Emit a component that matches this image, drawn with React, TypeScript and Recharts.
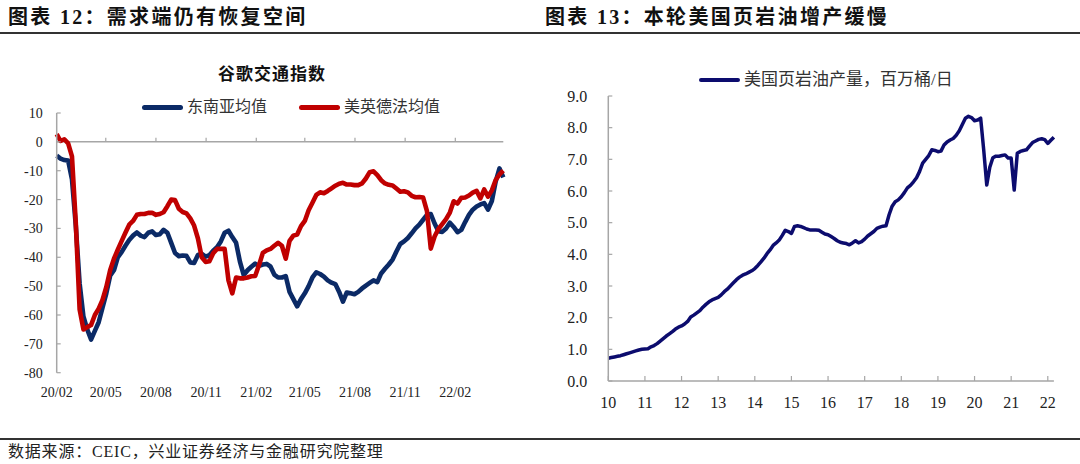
import React from 'react';
import { LineChart, Line, XAxis, YAxis, ReferenceLine } from 'recharts';

// ---------- Left chart: Google mobility (weekly, from 2020-02-15) ----------
const DAY = 86400000;
const trafficStart = Date.UTC(2020, 1, 15);

const seAsiaAvg = [
  -4.8, -5.8, -6.3, -6.5, -13, -29, -49, -60.5, -65, -68.5,
  -65.5, -62.5, -57.5, -52.5, -46.4, -44.5, -40, -38.2, -36, -34,
  -32.5, -31.4, -32.5, -33, -31.5, -31, -32.3, -32, -30.5, -31.5,
  -35, -38.5, -39.6, -39.4, -39.5, -41.8, -42, -39.2, -38.8, -39.8,
  -39.3, -37.7, -36.5, -34.5, -31.5, -30.8, -33, -35, -41.5, -46.2,
  -44.5, -43.3, -42.2, -43, -42.5, -42.3, -43.2, -46, -47, -47,
  -46.5, -52, -54.5, -57, -54.5, -52.5, -50, -47, -45.2, -45.8,
  -46.7, -48, -48.8, -49.3, -52, -55.4, -52.2, -52.5, -52.8, -52,
  -50.8, -49.8, -48.9, -48, -48.6, -45.6, -44, -42.5, -40.8, -38,
  -35.4, -34.5, -33.3, -31.7, -30, -28.7, -27, -25.3, -25, -28.3,
  -31, -31.2, -30, -28, -29.5, -31.3, -30.5, -27.8, -25.3, -23.5,
  -22.4, -21.7, -21.2, -23.5, -20.5, -13.8, -9.2, -12.3,
];

const westAvg = [
  2.7, 0.3, 0.9, -0.5, -5, -28, -58, -65, -64.2, -63.5,
  -60, -57.8, -54.8, -50.3, -44.5, -40.5, -37.4, -34.4, -31.5, -28.7,
  -27.4, -25.3, -25, -25, -24.6, -24.6, -25.3, -25, -24.4, -22.3,
  -20, -20.2, -23.2, -24.3, -24.8, -26.5, -29, -33.5, -40, -41.6,
  -41.4, -38.6, -37.1, -37.1, -37.1, -48, -52.5, -47, -47.3, -47.3,
  -47, -46.6, -46.5, -42.7, -38.5, -37.6, -37.1, -36, -35, -36,
  -40.5, -34.3, -32.5, -32.1, -29.2, -27.4, -23.7, -21.1, -18.4, -17.5,
  -17.8, -17, -16.1, -15.2, -14.5, -14.2, -14.8, -14.8, -15, -15,
  -14.4, -12.7, -10.5, -10.2, -11.5, -13.3, -14.4, -14.9, -15.1, -16.2,
  -17.3, -17.1, -17.5, -18.7, -19.2, -19.1, -19.3, -24, -37, -32.8,
  -30.2, -28.5, -26.8, -24.5, -20.6, -21.4, -19.4, -19.3, -18.6, -17.6,
  -17, -19.6, -16.5, -19, -16.8, -13.2, -11.3, -10,
];

const trafficTickLabels = ['20/02', '20/05', '20/08', '20/11', '21/02', '21/05', '21/08', '21/11', '22/02'];
const trafficYTicks = [10, 0, -10, -20, -30, -40, -50, -60, -70, -80];

const trafficTicks = trafficTickLabels.map((l) =>
  Date.UTC(2000 + Number(l.slice(0, 2)), Number(l.slice(3)) - 1, 15)
);
const trafficData = seAsiaAvg.map((v, i) => ({
  t: trafficStart + i * 7 * DAY,
  sea: v,
  west: westAvg[i],
}));
const trafficEnd = trafficData[trafficData.length - 1].t;
const fmtTraffic = (t: number) => {
  const d = new Date(t);
  const yy = String(d.getUTCFullYear() % 100).padStart(2, '0');
  const mm = String(d.getUTCMonth() + 1).padStart(2, '0');
  return `${yy}/${mm}`;
};

// ---------- Right chart: US shale oil output (monthly, from 2010-01) ----------
const shaleStartYear = 2010;
const shaleOutput = [
  0.72, 0.74, 0.76, 0.78, 0.8, 0.83, 0.86, 0.89, 0.92, 0.95, 0.98, 1.0, // 2010
  1.01, 1.02, 1.08, 1.12, 1.18, 1.26, 1.34, 1.42, 1.49, 1.56, 1.64, 1.7, // 2011
  1.74, 1.8, 1.88, 2.02, 2.08, 2.15, 2.22, 2.33, 2.42, 2.5, 2.56, 2.6, // 2012
  2.64, 2.72, 2.82, 2.9, 3.0, 3.1, 3.2, 3.28, 3.34, 3.38, 3.43, 3.48, // 2013
  3.55, 3.65, 3.76, 3.88, 4.02, 4.14, 4.28, 4.36, 4.45, 4.6, 4.76, 4.72, // 2014
  4.66, 4.88, 4.9, 4.88, 4.84, 4.8, 4.77, 4.77, 4.77, 4.76, 4.7, 4.64, // 2015
  4.62, 4.56, 4.5, 4.43, 4.38, 4.36, 4.34, 4.3, 4.36, 4.43, 4.36, 4.4, // 2016
  4.48, 4.58, 4.65, 4.72, 4.82, 4.86, 4.89, 4.9, 5.25, 5.52, 5.66, 5.72, // 2017
  5.82, 5.95, 6.1, 6.18, 6.29, 6.42, 6.62, 6.88, 7.0, 7.12, 7.3, 7.28, // 2018
  7.24, 7.26, 7.45, 7.55, 7.61, 7.66, 7.76, 7.9, 8.1, 8.3, 8.36, 8.32, // 2019
  8.22, 8.24, 8.3, 7.3, 6.19, 6.75, 7.05, 7.1, 7.1, 7.12, 7.14, 7.04, // 2020
  7.04, 6.03, 7.19, 7.25, 7.28, 7.3, 7.42, 7.53, 7.58, 7.63, 7.65, 7.62, // 2021
  7.5, 7.6, 7.7, // 2022
];
const shaleYearLabels = ['10', '11', '12', '13', '14', '15', '16', '17', '18', '19', '20', '21', '22'];
const shaleYTicks = [0, 1, 2, 3, 4, 5, 6, 7, 8, 9];

const shaleData = shaleOutput.map((v, i) => ({ t: shaleStartYear + i / 12, v }));
const shaleTicks = shaleYearLabels.map((y) => 2000 + Number(y));
const shaleEnd = shaleData[shaleData.length - 1].t;

// ---------- styles ----------
const SERIF = "'Liberation Serif', 'Times New Roman', 'Noto Sans CJK SC', serif";
const AXIS = '#a6a6a6';
const BLUE = '#0b2a66';
const RED = '#c00000';
const NAVY = '#0c0c6e';

const abs = (s: React.CSSProperties): React.CSSProperties => ({ position: 'absolute', ...s });

function LegendItem({ color, label, left, top, size, lineW, thick }: any) {
  return (
    <div style={abs({ left, top, display: 'flex', alignItems: 'center', whiteSpace: 'nowrap' })}>
      <div style={{ width: lineW, height: thick, background: color, borderRadius: thick / 2, marginRight: 4 }} />
      <span style={{ fontSize: size, color: '#333', fontFamily: SERIF, lineHeight: '20px' }}>{label}</span>
    </div>
  );
}

export default function App() {
  return (
    <div style={abs({ left: 0, top: 0, width: 1080, height: 464, background: '#fff', fontFamily: SERIF, overflow: 'hidden' })}>
      {/* headers */}
      <div style={abs({ left: 8, top: 4, fontSize: 20, fontWeight: 'bold', letterSpacing: 2.3, lineHeight: '26px', color: '#111' })}>
        图表 12：需求端仍有恢复空间
      </div>
      <div style={abs({ left: 545, top: 4, fontSize: 20, fontWeight: 'bold', letterSpacing: 2.3, lineHeight: '26px', color: '#111' })}>
        图表 13：本轮美国页岩油增产缓慢
      </div>
      <div style={abs({ left: 0, top: 32, width: 1080, height: 1.5, background: '#333' })} />

      {/* left chart */}
      <div style={abs({ left: 0, top: 0 })}>
        <LineChart width={540} height={464} data={trafficData} margin={{ top: 113, right: 36.7, bottom: 0, left: 0 }}>
          <XAxis
            dataKey="t"
            type="number"
            domain={[trafficStart, trafficEnd]}
            ticks={trafficTicks}
            tickFormatter={fmtTraffic}
            axisLine={false}
            tickLine={false}
            tickSize={0}
            tickMargin={14}
            height={91.3}
            interval={0}
            tick={{ fill: '#222', fontSize: 14, fontFamily: SERIF }}
          />
          <YAxis
            type="number"
            domain={[-80, 10]}
            ticks={trafficYTicks}
            interval={0}
            width={56.7}
            axisLine={{ stroke: AXIS, strokeWidth: 1.5 }}
            tickLine={{ stroke: AXIS, strokeWidth: 1.2 }}
            tickSize={-4}
            tickMargin={18}
            tick={{ fill: '#222', fontSize: 14, fontFamily: SERIF }}
          />
          <ReferenceLine y={0} stroke={AXIS} strokeWidth={1.5} />
          {trafficTicks.slice(1).map((tk) => (
            <ReferenceLine
              key={tk}
              segment={[{ x: tk, y: 0 }, { x: tk, y: 1.4 }]}
              stroke={AXIS}
              strokeWidth={1.2}
            />
          ))}
          <Line dataKey="sea" stroke={BLUE} strokeWidth={4.6} dot={false} isAnimationActive={false} strokeLinejoin="round" />
          <Line dataKey="west" stroke={RED} strokeWidth={4.6} dot={false} isAnimationActive={false} strokeLinejoin="round" />
        </LineChart>
      </div>
      <div style={abs({ left: 0, width: 540, top: 64, textAlign: 'center', paddingLeft: 0 })}>
        <span style={{ display: 'inline-block', marginLeft: 4, fontSize: 17, fontWeight: 'bold', letterSpacing: 1, color: '#111', lineHeight: '22px' }}>
          谷歌交通指数
        </span>
      </div>
      <LegendItem color={BLUE} label="东南亚均值" left={142} top={97} size={16} lineW={41} thick={5} />
      <LegendItem color={RED} label="美英德法均值" left={299} top={97} size={16} lineW={41} thick={5} />

      {/* right chart */}
      <div style={abs({ left: 540, top: 0 })}>
        <LineChart width={540} height={464} data={shaleData} margin={{ top: 96, right: 26.1, bottom: 0, left: 0 }}>
          <XAxis
            dataKey="t"
            type="number"
            domain={[shaleStartYear, shaleEnd]}
            ticks={shaleTicks}
            tickFormatter={(v: number) => String(Math.round(v) - 2000)}
            interval={0}
            height={83}
            axisLine={{ stroke: AXIS, strokeWidth: 1.5 }}
            tickLine={{ stroke: AXIS, strokeWidth: 1.2 }}
            tickSize={-5}
            tickMargin={21}
            tick={{ fill: '#222', fontSize: 16, fontFamily: SERIF }}
          />
          <YAxis
            type="number"
            domain={[0, 9]}
            ticks={shaleYTicks}
            interval={0}
            width={68.3}
            tickFormatter={(v: number) => v.toFixed(1)}
            axisLine={{ stroke: AXIS, strokeWidth: 1.5 }}
            tickLine={{ stroke: AXIS, strokeWidth: 1.2 }}
            tickSize={-4}
            tickMargin={25}
            tick={{ fill: '#222', fontSize: 16, fontFamily: SERIF }}
          />
          <Line dataKey="v" stroke={NAVY} strokeWidth={3.5} dot={false} isAnimationActive={false} strokeLinejoin="round" />
        </LineChart>
      </div>
      <LegendItem color={NAVY} label="美国页岩油产量，百万桶/日" left={699} top={70} size={17} lineW={41} thick={4.5} />

      {/* footer */}
      <div style={abs({ left: 0, top: 438, width: 1080, height: 1.5, background: '#333' })} />
      <div style={abs({ left: 8, top: 441, fontSize: 16, letterSpacing: 0.8, lineHeight: '22px', color: '#222' })}>
        数据来源：CEIC，兴业证券经济与金融研究院整理
      </div>
    </div>
  );
}
